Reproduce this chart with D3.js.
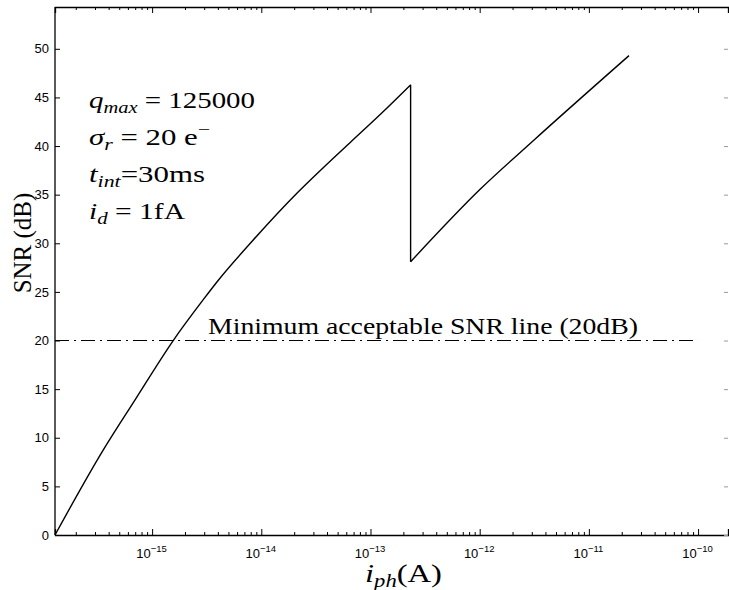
<!DOCTYPE html>
<html>
<head>
<meta charset="utf-8">
<script src="https://cdn.jsdelivr.net/npm/d3@7"></script>
<style>
  body { margin: 0; background: #fff; }
  .tick text { font-family: "Liberation Sans", Arial, sans-serif; font-size: 13px; fill: #000; }
  .serif { font-family: "Liberation Serif", "Times New Roman", serif; fill: #000; }
</style>
</head>
<body>
<svg class="snr" width="729" height="590"></svg>
<script>
// photocurrent (A) and SNR (dB)
const riseCurrent = [1.29e-16, 3.55e-16, 6.98e-16, 1.56e-15, 2.94e-15, 4.04e-15, 7.93e-15, 2.14e-14, 3.71e-14, 6.56e-14, 1.24e-13, 2.33e-13];
const riseSnr = [0, 8.7, 13.9, 20.0, 24.2, 26.2, 30.0, 35.2, 37.8, 40.4, 43.3, 46.3];
const wellCurrent = [2.33e-13, 1.02e-12, 3.13e-12, 2.33e-11];
const wellSnr = [28.1, 35.6, 40.6, 49.3];
const minSnr = 20;
const minLineEnd = 1.0e-10;
const xMajorTicks = [1e-15, 1e-14, 1e-13, 1e-12, 1e-11, 1e-10];
const yTicks = [0, 5, 10, 15, 20, 25, 30, 35, 40, 45, 50];

(function () {
    const margin = { left: 55, top: 7, right: 1, bottom: 55 };
    const width = 729, height = 590;

    let svg = d3.select("svg.snr");

    let x = d3.scaleLog()
        .domain([1.29e-16, 1.88e-10])
        .range([margin.left, width - margin.right]);
    let y = d3.scaleLinear()
        .domain([0, 54.3])
        .range([height - margin.bottom, margin.top]);

    // minor ticks 2..9 in each decade inside the domain
    let xMinorTicks = [];
    for (let e = -16; e <= -10; e++) {
        for (let m = 2; m <= 9; m++) {
            let v = m * Math.pow(10, e);
            if (v > x.domain()[0] && v < x.domain()[1]) xMinorTicks.push(v);
        }
    }

    const y0 = y(0), yTop = margin.top;

    // bottom axis
    let bottom = svg.append("g").attr("transform", "translate(0," + y0 + ")");
    bottom.call(d3.axisBottom(x).tickValues(xMajorTicks).tickSize(-6).tickFormat(""));
    bottom.append("g").call(d3.axisBottom(x).tickValues(xMinorTicks).tickSize(-3).tickFormat(""))
        .select(".domain").remove();
    bottom.selectAll(".tick").filter(function (d) { return xMajorTicks.includes(d); })
        .append("text")
        .attr("y", 23)
        .attr("x", -1)
        .attr("text-anchor", "middle")
        .each(function (d) {
            let t = d3.select(this);
            t.append("tspan").text("10");
            t.append("tspan").attr("dy", -6).style("font-size", "9.5px").text("\u2212" + (-Math.round(Math.log10(d))));
        });

    // top axis
    let top = svg.append("g").attr("transform", "translate(0," + yTop + ")");
    top.call(d3.axisTop(x).tickValues(xMajorTicks).tickSize(-6).tickFormat(""));
    top.append("g").call(d3.axisTop(x).tickValues(xMinorTicks).tickSize(-3).tickFormat(""))
        .select(".domain").remove();

    // left axis
    let left = svg.append("g").attr("transform", "translate(" + margin.left + ",0)");
    left.call(d3.axisLeft(y).tickValues(yTicks).tickSize(-5).tickPadding(6).tickFormat(d3.format("d")));
    left.select(".domain").attr("d", "M0," + y0 + "V" + yTop);

    // right ticks only, the frame line is not printed there
    let right = svg.append("g").attr("transform", "translate(" + (width - margin.right) + ",0)");
    right.call(d3.axisRight(y).tickValues(yTicks).tickSize(-4).tickFormat(""));
    right.select(".domain").remove();
    right.selectAll(".tick line").attr("stroke", "#999");

    svg.selectAll(".domain").attr("stroke-width", 1.3);
    svg.selectAll(".tick line").attr("stroke-width", 1);

    // SNR curve
    let line = d3.line()
        .x(function (d) { return x(d[0]); })
        .y(function (d) { return y(d[1]); })
        .curve(d3.curveMonotoneX);
    let straight = d3.line()
        .x(function (d) { return x(d[0]); })
        .y(function (d) { return y(d[1]); });

    let rise = d3.zip(riseCurrent, riseSnr);
    let well = d3.zip(wellCurrent, wellSnr);

    svg.append("path")
        .datum(rise)
        .attr("fill", "none").attr("stroke", "#000").attr("stroke-width", 1.4)
        .attr("d", line);
    svg.append("path")
        .datum([rise[rise.length - 1], well[0]])
        .attr("fill", "none").attr("stroke", "#000").attr("stroke-width", 1.4)
        .attr("d", straight);
    svg.append("path")
        .datum(well)
        .attr("fill", "none").attr("stroke", "#000").attr("stroke-width", 1.4)
        .attr("d", line);

    // minimum acceptable SNR line
    svg.append("line")
        .attr("x1", x(x.domain()[0])).attr("x2", x(minLineEnd))
        .attr("y1", y(minSnr)).attr("y2", y(minSnr))
        .attr("stroke", "#000").attr("stroke-width", 1.2)
        .attr("stroke-dasharray", "14,5,2,5");

    svg.append("text")
        .attr("class", "serif")
        .attr("x", 208).attr("y", y(minSnr) - 7)
        .attr("textLength", 430)
        .attr("lengthAdjust", "spacingAndGlyphs")
        .style("font-size", "24px")
        .text("Minimum acceptable SNR line (20dB)");

    // parameter block
    const params = [
        { sym: "q", sub: "max", rest: " = 125000", w: 166 },
        { sym: "\u03c3", sub: "r", rest: " = 20 e", sup: "\u2212", w: 121 },
        { sym: "t", sub: "int", rest: "=30ms", w: 116 },
        { sym: "i", sub: "d", rest: " = 1fA", w: 96 }
    ];
    params.forEach(function (p, i) {
        let t = svg.append("text")
            .attr("class", "serif")
            .attr("x", 89).attr("y", 108 + i * 37)
            .attr("textLength", p.w)
            .attr("lengthAdjust", "spacingAndGlyphs")
            .style("font-size", "24px");
        t.append("tspan").style("font-style", "italic").text(p.sym);
        t.append("tspan").style("font-style", "italic").style("font-size", "17px").attr("dy", 5).text(p.sub);
        t.append("tspan").attr("dy", -5).text(p.rest);
        if (p.sup) t.append("tspan").attr("dy", -10).style("font-size", "17px").text(p.sup);
    });

    // axis titles
    let xl = svg.append("text")
        .attr("class", "serif")
        .attr("x", 365).attr("y", 582)
        .attr("textLength", 77)
        .attr("lengthAdjust", "spacingAndGlyphs")
        .style("font-size", "26px");
    xl.append("tspan").style("font-style", "italic").text("i");
    xl.append("tspan").style("font-style", "italic").style("font-size", "18px").attr("dy", 5).text("ph");
    xl.append("tspan").attr("dy", -5).text("(A)");

    svg.append("text")
        .attr("class", "serif")
        .attr("transform", "translate(31,243) rotate(-90)")
        .attr("text-anchor", "middle")
        .style("font-size", "25px")
        .text("SNR (dB)");
}());
</script>
</body>
</html>
